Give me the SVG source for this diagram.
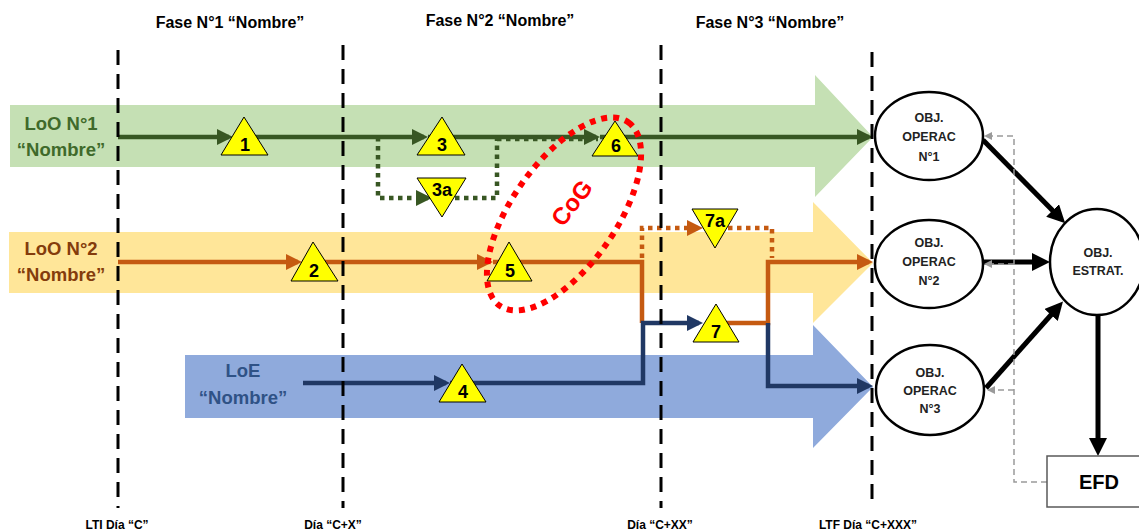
<svg xmlns="http://www.w3.org/2000/svg" width="1139" height="531" viewBox="0 0 1139 531">
<style>
text{font-family:"Liberation Sans",Arial,sans-serif;font-weight:bold}
.band{stroke:none}
.vdash{stroke:#000;stroke-width:3;stroke-dasharray:15 9;fill:none}
.gl{stroke:#385723;stroke-width:4.5;fill:none}
.ol{stroke:#c55a11;stroke-width:4.5;fill:none}
.bl{stroke:#203864;stroke-width:4.5;fill:none}
.dot{stroke-dasharray:4.5 4.5}
.tri{fill:#ffff00;stroke:#000;stroke-width:1}
.num{font-size:18px;fill:#000;text-anchor:middle}
.obj{fill:#fff;stroke:#000;stroke-width:2.5}
.ot{font-size:12.5px;fill:#222;text-anchor:middle}
.bk{stroke:#000;stroke-width:5;fill:none}
.gr{stroke:#9a9a9a;stroke-width:1.5;stroke-dasharray:6 4;fill:none}
.ph{font-size:16px;fill:#000;text-anchor:middle}
.dl{font-size:12px;fill:#000;text-anchor:middle}
</style>
<defs>
<marker id="ag" viewBox="0 0 16 16" refX="12" refY="8" markerWidth="16" markerHeight="16" markerUnits="userSpaceOnUse" orient="auto"><path d="M0,0 L16,8 L0,16 z" fill="#385723"/></marker>
<marker id="ao" viewBox="0 0 16 16" refX="12" refY="8" markerWidth="16" markerHeight="16" markerUnits="userSpaceOnUse" orient="auto"><path d="M0,0 L16,8 L0,16 z" fill="#c55a11"/></marker>
<marker id="ab" viewBox="0 0 16 16" refX="12" refY="8" markerWidth="16" markerHeight="16" markerUnits="userSpaceOnUse" orient="auto"><path d="M0,0 L16,8 L0,16 z" fill="#203864"/></marker>
<marker id="ak" viewBox="0 0 18 18" refX="12" refY="9" markerWidth="18" markerHeight="18" markerUnits="userSpaceOnUse" orient="auto"><path d="M0,0 L18,9 L0,18 z" fill="#000"/></marker>
<marker id="agr" viewBox="0 0 8 8" refX="7" refY="4" markerWidth="8" markerHeight="8" markerUnits="userSpaceOnUse" orient="auto"><path d="M0,0 L8,4 L0,8 z" fill="#9a9a9a"/></marker>
</defs>
<rect width="1139" height="531" fill="#fff"/>

<g id="bands">
<path class="band" fill="#c5e0b4" d="M10,105 H815 V75 L873,137 L815,197 V167 H10 Z"/>
<path class="band" fill="#ffe699" d="M9,232 H813 V202 L873,263 L813,323 V293 H9 Z"/>
<path class="band" fill="#8faadc" d="M185,355 H813 V325 L873,387 L813,448 V418 H185 Z"/>
</g>

<g id="lane-labels">
<text x="61" y="130" font-size="18.5" fill="#3f6a2b" text-anchor="middle">LoO N°1</text>
<text x="61" y="156" font-size="18.5" fill="#3f6a2b" text-anchor="middle">“Nombre”</text>
<text x="61" y="255" font-size="18.5" fill="#843c0c" text-anchor="middle">LoO N°2</text>
<text x="61" y="281" font-size="18.5" fill="#843c0c" text-anchor="middle">“Nombre”</text>
<text x="243" y="377" font-size="18.5" fill="#2f5286" text-anchor="middle">LoE</text>
<text x="243" y="404" font-size="18.5" fill="#2f5286" text-anchor="middle">“Nombre”</text>
</g>

<g id="connectors">
<path class="gl" d="M118,137 H229" marker-end="url(#ag)"/>
<path class="gl" d="M233,137 H424" marker-end="url(#ag)"/>
<path class="gl" d="M428,137 H596" marker-end="url(#ag)"/>
<path class="gl" d="M600,137 H869" marker-end="url(#ag)"/>
<path class="gl dot" d="M378,137 V198 H428" marker-end="url(#ag)"/>
<path class="gl dot" d="M455,198 H497 V137"/>
<path class="gl dot" d="M497,139 H598"/>

<path class="ol" d="M118,262 H298" marker-end="url(#ao)"/>
<path class="ol" d="M302,262 H489" marker-end="url(#ao)"/>
<path class="ol" d="M493,262 H642 V323"/>
<path class="ol" d="M716,323 H768 V262 H869" marker-end="url(#ao)"/>
<path class="ol dot" d="M642,258 V228 H699" marker-end="url(#ao)"/>
<path class="ol dot" d="M728,228 H772 V258"/>

<path class="bl" d="M303,383 H446" marker-end="url(#ab)"/>
<path class="bl" d="M450,383 H643 V323 H699" marker-end="url(#ab)"/>
<path class="bl" d="M768,323 V386 H869" marker-end="url(#ab)"/>

<path class="bk" d="M983,140 L1061,219" marker-end="url(#ak)"/>
<path class="bk" d="M983,262 H1044" marker-end="url(#ak)"/>
<path class="bk" d="M986,388 L1059,306" marker-end="url(#ak)"/>
<path class="bk" d="M1098,315 V450" marker-end="url(#ak)"/>

<path class="gr" d="M1047,482 H1014 V136 H985" marker-end="url(#agr)"/>
<path class="gr" d="M1014,264 H985" marker-end="url(#agr)"/>
<path class="gr" d="M1014,390 H988" marker-end="url(#agr)"/>
</g>

<g id="phase-lines">
<line class="vdash" x1="118" y1="50" x2="118" y2="508"/>
<line class="vdash" x1="343" y1="45" x2="343" y2="508"/>
<line class="vdash" x1="661" y1="45" x2="661" y2="508"/>
<line class="vdash" x1="872" y1="52" x2="872" y2="508"/>
</g>

<g id="t1"><polygon class="tri" points="244,117 221,155 268,155"/><text class="num" x="245" y="151">1</text></g>
<g id="t2"><polygon class="tri" points="313,242 291,281 338,281"/><text class="num" x="314" y="277">2</text></g>
<g id="t3"><polygon class="tri" points="442,117 417,155 465,155"/><text class="num" x="442" y="151">3</text></g>
<g id="t3a"><polygon class="tri" points="417,178 466,178 442,217"/><text class="num" x="442" y="196">3a</text></g>
<g id="t4"><polygon class="tri" points="462,364 439,402 486,402"/><text class="num" x="463" y="398">4</text></g>
<g id="t5"><polygon class="tri" points="509,242 487,281 532,281"/><text class="num" x="510" y="277">5</text></g>
<g id="t6"><polygon class="tri" points="615,121 592,156 638,156"/><text class="num" x="616" y="152">6</text></g>
<g id="t7"><polygon class="tri" points="716,304 693,342 739,342"/><text class="num" x="716" y="338">7</text></g>
<g id="t7a"><polygon class="tri" points="692,209 738,209 715,248"/><text class="num" x="715" y="227">7a</text></g>

<g id="cog">
<ellipse cx="564" cy="214" rx="112" ry="52" transform="rotate(-55 564 214)" fill="none" stroke="#ff0000" stroke-width="6" stroke-dasharray="6 6"/>
<text x="572" y="211" font-size="24" fill="#ff0000" text-anchor="middle" transform="rotate(-52 572 203)">CoG</text>
</g>

<g id="obj1"><ellipse class="obj" cx="929" cy="136" rx="54" ry="44"/><text class="ot" x="929" y="122">OBJ.</text><text class="ot" x="929" y="141">OPERAC</text><text class="ot" x="929" y="161">N°1</text></g>
<g id="obj2"><ellipse class="obj" cx="929" cy="264" rx="54" ry="44"/><text class="ot" x="929" y="247">OBJ.</text><text class="ot" x="929" y="266">OPERAC</text><text class="ot" x="929" y="285">N°2</text></g>
<g id="obj3"><ellipse class="obj" cx="930" cy="390" rx="54" ry="45"/><text class="ot" x="930" y="377">OBJ.</text><text class="ot" x="930" y="395">OPERAC</text><text class="ot" x="930" y="413">N°3</text></g>
<g id="estrat"><ellipse class="obj" cx="1097" cy="262" rx="47" ry="53"/><text class="ot" x="1098" y="257">OBJ.</text><text class="ot" x="1098" y="275">ESTRAT.</text></g>
<g id="efd"><rect x="1047" y="456" width="100" height="51" fill="#fff" stroke="#595959" stroke-width="1.5"/><text x="1099" y="489" font-size="20" fill="#000" text-anchor="middle">EFD</text></g>

<g id="phases">
<text class="ph" x="230" y="28">Fase N°1 “Nombre”</text>
<text class="ph" x="500" y="26">Fase N°2 “Nombre”</text>
<text class="ph" x="770" y="28">Fase N°3 “Nombre”</text>
</g>
<g id="dates">
<text class="dl" x="117" y="529">LTI Día “C”</text>
<text class="dl" x="333" y="529">Día “C+X”</text>
<text class="dl" x="660" y="529">Día “C+XX”</text>
<text class="dl" x="868" y="529">LTF Día “C+XXX”</text>
</g>
</svg>
